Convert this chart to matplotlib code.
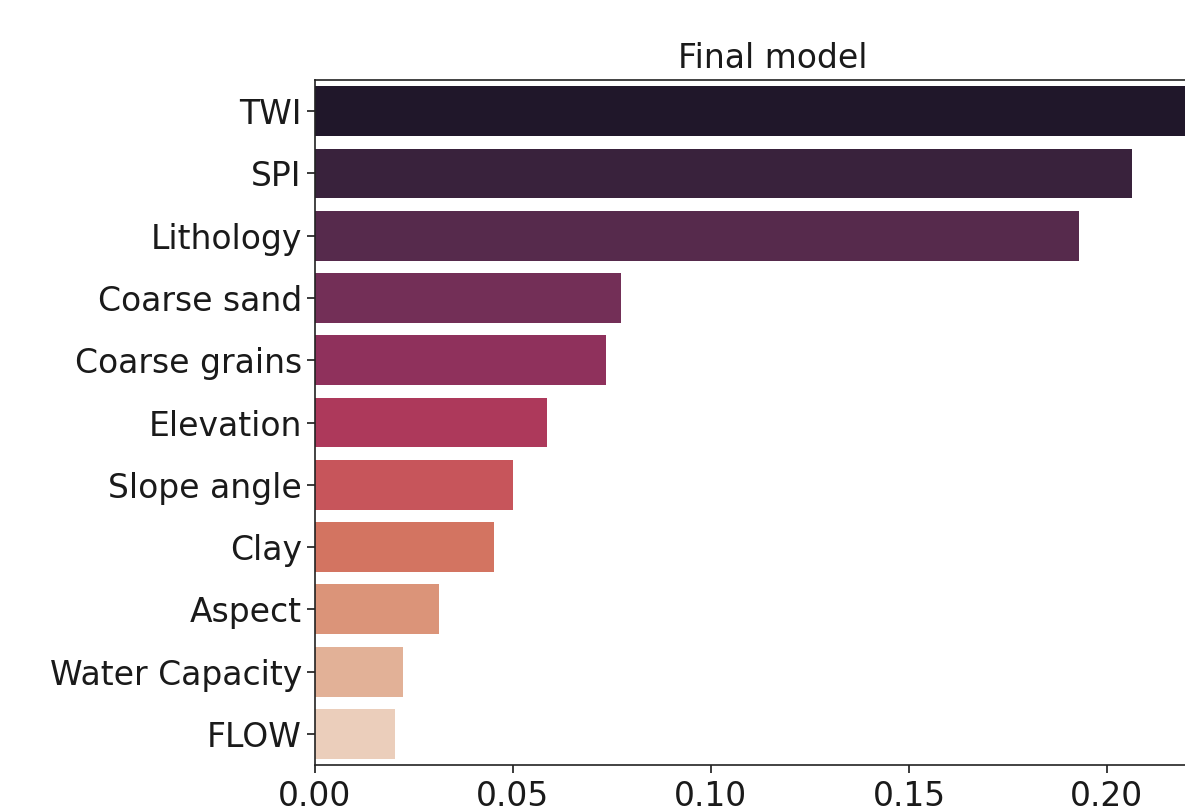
import matplotlib
matplotlib.use("Agg")
import matplotlib.pyplot as plt
import seaborn as sns

features = ["TWI", "SPI", "Lithology", "Coarse sand", "Coarse grains", "Elevation",
            "Slope angle", "Clay", "Aspect", "Water Capacity", "FLOW"]
importance = [0.2203, 0.2063, 0.1929, 0.0773, 0.0735, 0.0586,
              0.0500, 0.0452, 0.0313, 0.0222, 0.0202]
xticks = [0.00, 0.05, 0.10, 0.15, 0.20]
title = "Final model"

W, H = 1185, 809
fig = plt.figure(figsize=(W / 100, H / 100), dpi=100)
left, right, top, bottom = 315, 1231, 80, 765
ax = fig.add_axes([left / W, 1 - bottom / H, (right - left) / W, (bottom - top) / H])

colors = [sns.desaturate(c, 0.66) for c in sns.color_palette("rocket", len(features))]
ax.barh(range(len(features)), importance, height=0.8, color=colors)
ax.set_ylim(len(features) - 0.5, -0.5)
ax.set_xlim(0, max(importance) * 1.05)
ax.set_yticks(range(len(features)))
ax.set_yticklabels(features)
ax.set_xticks(xticks)
ax.set_xticklabels([f"{t:.2f}" for t in xticks])
ax.tick_params(labelsize=23.8, length=6, width=1.2, colors="#1a1a1a")
ax.tick_params(axis="x", pad=5)
for s in ax.spines.values():
    s.set_linewidth(1.2)
    s.set_color("#222222")
ax.set_title(title, fontsize=23.8, pad=9, color="#1a1a1a")

fig.savefig("out.png", dpi=100)
